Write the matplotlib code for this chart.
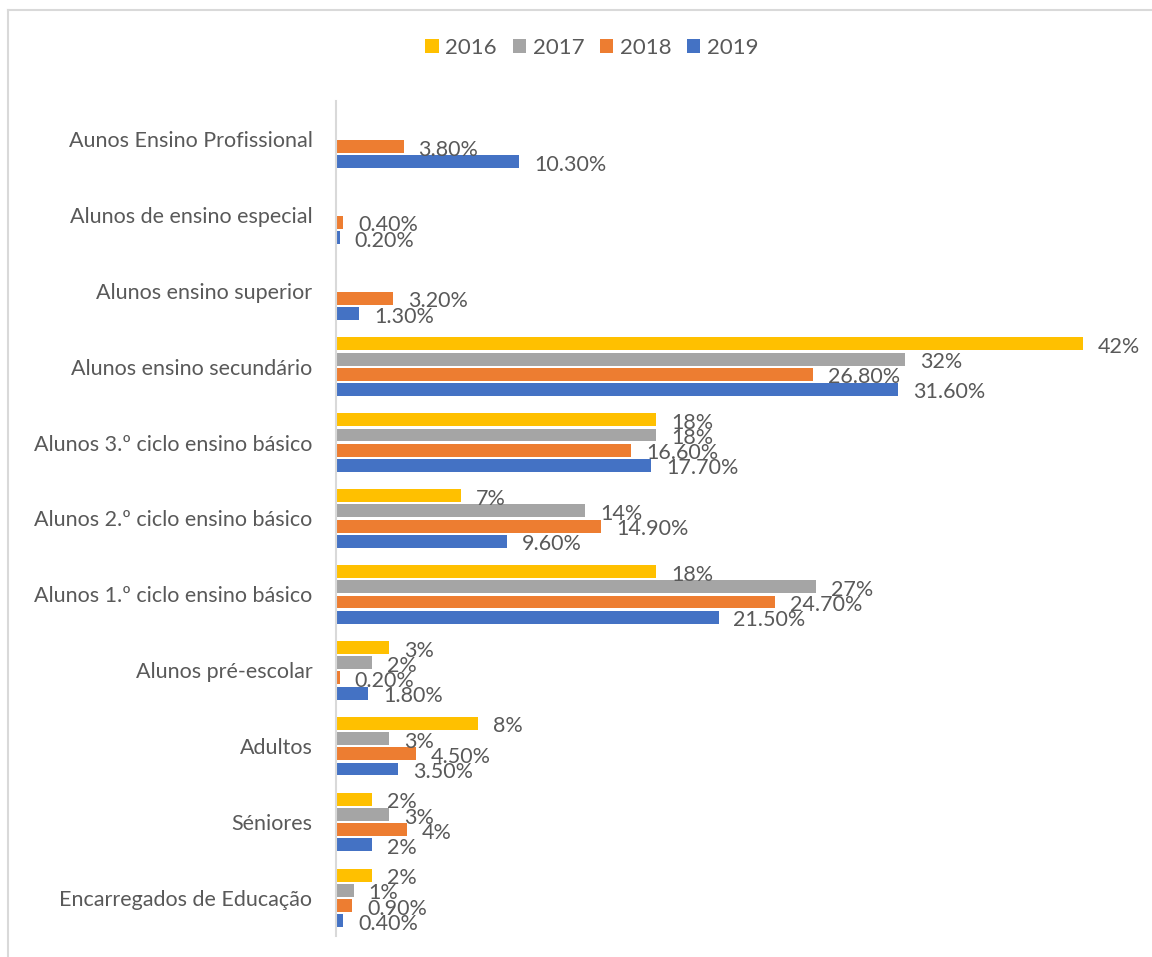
import numpy as np
import matplotlib.pyplot as plt
from matplotlib.lines import Line2D

categories = ["Aunos Ensino Profissional", "Alunos de ensino especial",
              "Alunos ensino superior", "Alunos ensino secundário",
              "Alunos 3.º ciclo ensino básico", "Alunos 2.º ciclo ensino básico",
              "Alunos 1.º ciclo ensino básico", "Alunos pré-escolar",
              "Adultos", "Séniores", "Encarregados de Educação"]
years = ["2016", "2017", "2018", "2019"]
v2016 = [None, None, None, 42, 18, 7, 18, 3, 8, 2, 2]
v2017 = [None, None, None, 32, 18, 14, 27, 2, 3, 3, 1]
v2018 = [3.8, 0.4, 3.2, 26.8, 16.6, 14.9, 24.7, 0.2, 4.5, 4, 0.9]
v2019 = [10.3, 0.2, 1.3, 31.6, 17.7, 9.6, 21.5, 1.8, 3.5, 2, 0.4]
colors = ["#FFC000", "#A5A5A5", "#ED7D31", "#4472C4"]

txt = "#595959"
plt.rcParams['font.family'] = ['Lato', 'DejaVu Sans']

fig = plt.figure(figsize=(11.52, 9.57), dpi=100)
ax = fig.add_axes([336 / 1152, 1 - 936 / 957, 765 / 1152, 835 / 957])

y = np.arange(len(categories))
offsets = [-0.3, -0.1, 0.1, 0.3]
for vals, off, c, yr in zip([v2016, v2017, v2018, v2019], offsets, colors, years):
    for i, v in enumerate(vals):
        if v is None:
            continue
        ax.barh(y[i] + off, v, height=0.17, color=c)
        # labels overlap like in the original chart
        lab = "{:.0f}%".format(v) if float(v).is_integer() else "{:.2f}%".format(v)
        ax.annotate(lab, (v, y[i] + off), xytext=(15, -3), textcoords="offset pixels",
                    ha="left", va="center", fontsize=15.5, color=txt, clip_on=False)
    ax.barh([0], [0], color=c, label=yr)

ax.set_ylim(len(categories) - 0.5, -0.5)
ax.set_xlim(0, 43)
ax.set_yticks(y)
ax.set_yticklabels(categories, fontsize=15.5, color=txt)
ax.tick_params(axis="y", length=0, pad=17)
ax.set_xticks([])
for s in ["top", "right", "bottom"]:
    ax.spines[s].set_visible(False)
ax.spines["left"].set_color("#D9D9D9")
ax.spines["left"].set_linewidth(1.5)

fig.legend(loc="center", bbox_to_anchor=(592 / 1152, 1 - 48 / 957), ncol=4, frameon=False,
           fontsize=16, handlelength=0.6, handleheight=0.6, handletextpad=0.3,
           columnspacing=0.7, labelcolor=txt)

fig.add_artist(Line2D([8 / 1152, 8 / 1152], [0, 1 - 10 / 957], color="#D9D9D9", lw=1.5,
                      transform=fig.transFigure))
fig.add_artist(Line2D([8 / 1152, 1], [1 - 10 / 957, 1 - 10 / 957], color="#D9D9D9", lw=1.5,
                      transform=fig.transFigure))

fig.savefig("out.png", dpi=100)
